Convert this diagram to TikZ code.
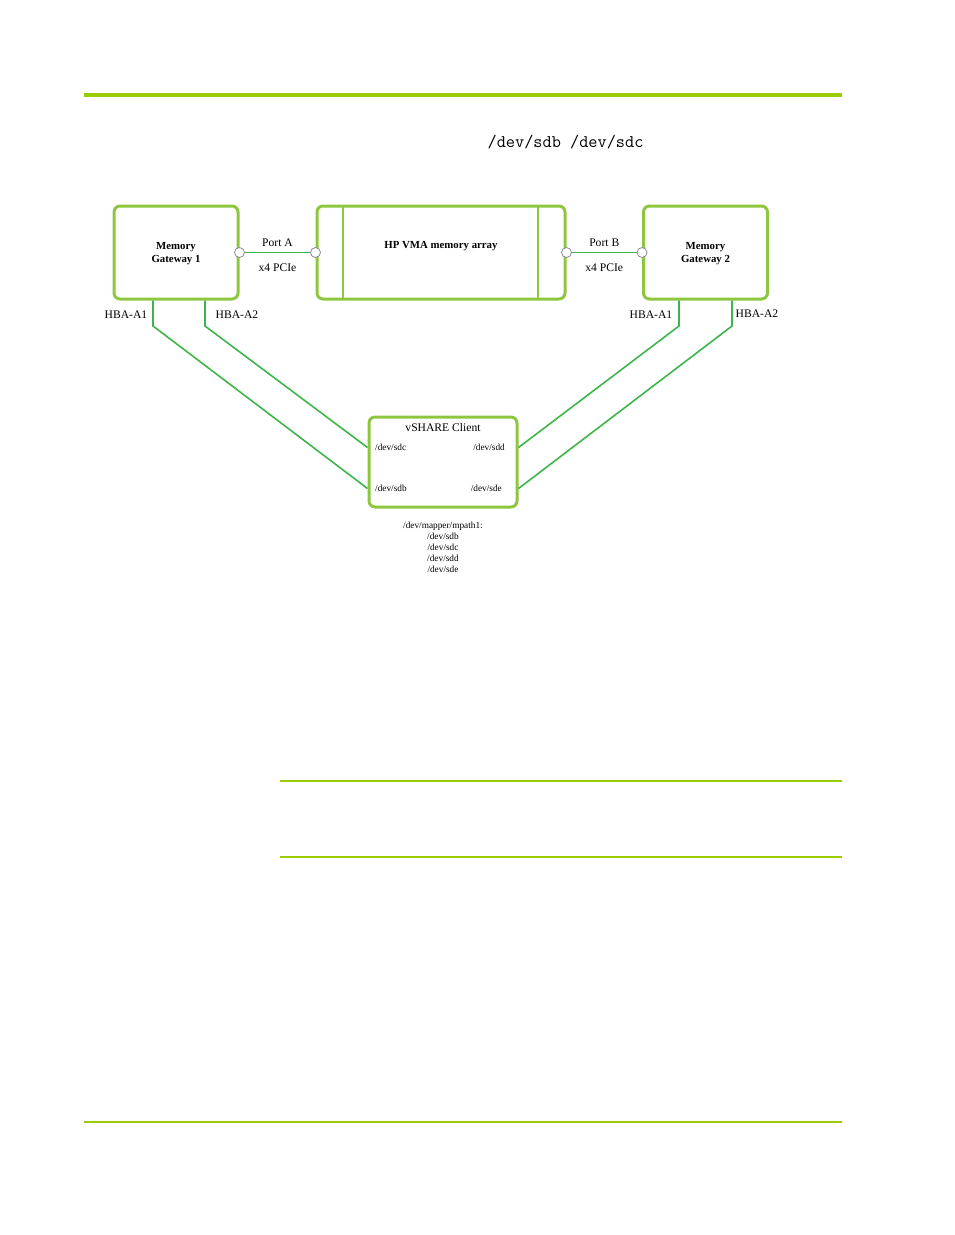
\documentclass[tikz,border=0pt]{standalone}
\usepackage{fontspec}
\setmainfont{Liberation Serif}
\usetikzlibrary{positioning}
\definecolor{rulegreen}{RGB}{155,204,0}
\definecolor{boxgreen}{RGB}{141,198,63}
\definecolor{linkgreen}{RGB}{60,182,74}
\definecolor{portgray}{RGB}{140,140,140}
\begin{document}
\begin{tikzpicture}[x=1pt,y=-1pt]
		\tikzset{unit/.style = {draw=boxgreen,line width=3pt,rounded corners=6pt,minimum width=124pt,minimum height=93pt,align=center,font=\fontsize{10.8}{13}\selectfont\bfseries}}
		\tikzset{port/.style = {shape=circle,draw=portgray,fill=white,line width=0.8pt,minimum size=10pt,inner sep=0pt}}
		\tikzset{link/.style = {draw=linkgreen,line width=1.6pt}}
		\tikzset{lbl/.style = {inner sep=0pt,font=\fontsize{11.6}{13}\selectfont}}
		\tikzset{dev/.style = {inner sep=0pt,font=\fontsize{9.3}{11}\selectfont}}
		\useasboundingbox (0,0) rectangle (954,1235);
		% page rules
		\draw[rulegreen,line width=4.5pt] (84,95) -- (842,95);
		\draw[rulegreen,line width=1.3pt] (280,781) -- (842,781);
		\draw[rulegreen,line width=2.2pt] (280,857) -- (842,857);
		\draw[rulegreen,line width=1.5pt] (84,1122) -- (842,1122);
		\node[font=\fontsize{17.8}{20}\selectfont\ttfamily,inner sep=0pt] (devs) at (565.5,142.5) {/dev/sdb /dev/sdc};
		% boxes
		\node[unit] (gw1) at (176,252.5) {};
		\node[unit,minimum width=248pt] (vma) at (441,252.5) {};
		\node[unit] (gw2) at (705.5,252.5) {};
		\node[unit,draw=none,minimum size=0pt,inner sep=0pt] (gw1L) at (176,254) {Memory\\Gateway 1};
		\node[unit,draw=none,minimum size=0pt,inner sep=0pt] (vmaL) at (441,246) {HP VMA memory array};
		\node[unit,draw=none,minimum size=0pt,inner sep=0pt] (gw2L) at (705.5,254) {Memory\\Gateway 2};
		\draw[boxgreen,line width=2pt] (343,206) -- (343,299);
		\draw[boxgreen,line width=2pt] (538,206) -- (538,299);
		\node[unit,minimum width=148pt,minimum height=90pt] (client) at (443,462) {};
		\node[lbl] (clientL) at (443,428) {vSHARE Client};
		\node[dev,anchor=west] (sdcL) at (375,447.5) {/dev/sdc};
		\node[dev,anchor=east] (sddL) at (505,447.5) {/dev/sdd};
		\node[dev,anchor=west] (sdbL) at (375,488.5) {/dev/sdb};
		\node[dev,anchor=east] (sdeL) at (502,488.5) {/dev/sde};
		\node[dev,align=center] (mpath) at (443,547.5) {/dev/mapper/mpath1:\\/dev/sdb\\/dev/sdc\\/dev/sdd\\/dev/sde};
		% PCIe links
		\node[port] (pa1) at (gw1.east) {};
		\node[port] (pa2) at (vma.west) {};
		\node[port] (pb1) at (vma.east) {};
		\node[port] (pb2) at (gw2.west) {};
		\path[link] (pa1) edge node[lbl,above=5pt] (portA) {Port A} node[lbl,below=11pt] (pcieA) {x4 PCIe} (pa2);
		\path[link] (pb1) edge node[lbl,above=5pt] (portB) {Port B} node[lbl,below=11pt] (pcieB) {x4 PCIe} (pb2);
		% HBA links
		\coordinate (a1l) at (153,326);
		\coordinate (a2l) at (205,326);
		\coordinate (a1r) at (679,326);
		\coordinate (a2r) at (732,326);
		\draw[link] (gw1.south -| a1l) -- (a1l) -- (client.west |- sdbL);
		\draw[link] (gw1.south -| a2l) -- (a2l) -- (client.west |- sdcL);
		\draw[link] (gw2.south -| a1r) -- (a1r) -- (client.east |- sddL);
		\draw[link] (gw2.south -| a2r) -- (a2r) -- (client.east |- sdeL);
		\node[lbl] (hba1l) at (126,315) {HBA-A1};
		\node[lbl] (hba2l) at (237,315) {HBA-A2};
		\node[lbl] (hba1r) at (651,315) {HBA-A1};
		\node[lbl] (hba2r) at (757,314) {HBA-A2};
	\end{tikzpicture}
\end{document}
